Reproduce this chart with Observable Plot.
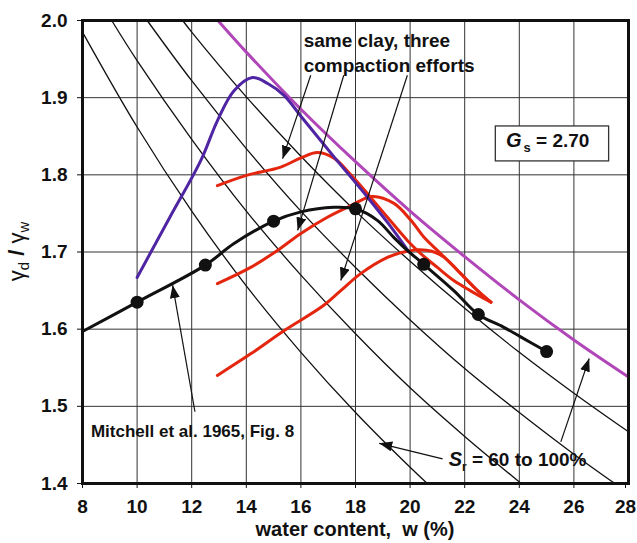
<!DOCTYPE html>
<html><head><meta charset="utf-8">
<script src="https://cdn.jsdelivr.net/npm/d3@7"></script>
<script src="https://cdn.jsdelivr.net/npm/@observablehq/plot@0.6"></script>
<style>body{margin:0;background:#fff} svg{display:block}</style>
</head><body><div id="chart"></div>
<script>
// ---------- data ----------
const xTicks = [8, 10, 12, 14, 16, 18, 20, 22, 24, 26, 28];
const yTicks = [1.4, 1.5, 1.6, 1.7, 1.8, 1.9, 2.0];

// saturation lines (Gs = 2.70), S = 60..90 black, 100 magenta
const sat60W = [8, 10, 12, 14, 16, 18, 20, 20.63];
const sat60G = [1.985, 1.862, 1.753, 1.656, 1.570, 1.492, 1.421, 1.400];
const sat70W = [9.07, 10, 12, 14, 16, 18, 20, 22, 24.07];
const sat70G = [2.0, 1.948, 1.846, 1.753, 1.670, 1.594, 1.524, 1.461, 1.400];
const sat80W = [10.37, 12, 14, 16, 18, 20, 22, 24, 26, 27.5];
const sat80G = [2.0, 1.922, 1.834, 1.753, 1.680, 1.612, 1.549, 1.492, 1.438, 1.400];
const sat90W = [11.67, 12, 14, 16, 18, 20, 22, 24, 26, 28];
const sat90G = [2.0, 1.985, 1.901, 1.824, 1.753, 1.688, 1.627, 1.570, 1.517, 1.467];
const sat100W = [12.96, 14, 16, 18, 20, 22, 24, 26, 28];
const sat100G = [2.0, 1.959, 1.885, 1.817, 1.753, 1.694, 1.638, 1.586, 1.538];

// Mitchell et al. 1965 data points and curve
const mitchellW = [10, 12.5, 15, 18, 20.5, 22.5, 25];
const mitchellG = [1.635, 1.683, 1.740, 1.756, 1.684, 1.619, 1.571];
const blackW = [8, 10, 12.5, 13.55, 15, 16, 17.2, 18, 18.8, 19.4, 19.9, 20.5, 21.6, 22.5, 23.4, 24.05, 25];
const blackG = [1.597, 1.635, 1.683, 1.711, 1.740, 1.752, 1.758, 1.756, 1.741, 1.719, 1.702, 1.684, 1.650, 1.619, 1.603, 1.590, 1.571];

// purple curve
const purpleW = [10, 11.2, 12.34, 12.94, 13.55, 14.23, 14.8, 15.38, 16, 17.22, 18.44, 19.2, 19.96];
const purpleG = [1.667, 1.745, 1.819, 1.870, 1.909, 1.926, 1.918, 1.903, 1.876, 1.823, 1.771, 1.737, 1.700];

// red curves: same clay, three compaction efforts
const redTopW = [12.94, 13.98, 15.26, 16.0, 16.6, 17.2, 17.83, 18.5, 19.17, 19.9, 20.39, 21.0, 21.6, 22.2, 22.96];
const redTopG = [1.786, 1.799, 1.810, 1.822, 1.829, 1.822, 1.800, 1.773, 1.745, 1.715, 1.698, 1.680, 1.663, 1.650, 1.635];
const redMidW = [12.94, 14.16, 15.14, 16.0, 16.97, 17.83, 18.6, 19.41, 20.03, 20.51, 21.12, 21.74, 22.35, 22.96];
const redMidG = [1.659, 1.680, 1.702, 1.724, 1.745, 1.760, 1.772, 1.763, 1.741, 1.719, 1.698, 1.676, 1.654, 1.635];
const redLowW = [12.94, 14.16, 15.38, 16.8, 17.46, 18.19, 19.17, 19.66, 20.3, 20.8, 21.25, 21.86, 22.47, 22.96];
const redLowG = [1.540, 1.568, 1.598, 1.630, 1.650, 1.672, 1.693, 1.699, 1.703, 1.701, 1.693, 1.672, 1.650, 1.635];

// annotation arrows (tail -> tip)
const arrowW1 = [16.36, 17.57, 19.9, 12.12, 21.19, 25.52];
const arrowG1 = [1.929, 1.929, 1.929, 1.493, 1.432, 1.454];
const arrowW2 = [15.33, 15.88, 17.46, 11.3, 18.87, 26.56];
const arrowG2 = [1.821, 1.728, 1.663, 1.657, 1.452, 1.562];

// annotation texts
const noteTexts = ["same clay, three", "compaction efforts", "Mitchell et al. 1965, Fig. 8"];
const noteW = [16.1, 16.1, 8.31];
const noteG = [1.9663, 1.9339, 1.4603];
const noteSize = [19, 19, 17];

const gsBoxW = [23.14, 27.29];
const gsBoxG = [1.8174, 1.8627];
const gsLabel = ["G", "s", " = 2.70"];
const gsPos = [23.53, 1.8355];
const srLabel = ["S", "r", " = 60 to 100%"];
const srPos = [21.43, 1.4214];
const xLabel = "water content,  w (%)";
const yLabel = ["γ", "d", " / ", "γ", "w"];

// ---------- build rows ----------
const zip = (W, G, extra = {}) => W.map((w, i) => ({w, g: G[i], ...extra}));
const satBlack = [
  ...zip(sat60W, sat60G, {s: 60}), ...zip(sat70W, sat70G, {s: 70}),
  ...zip(sat80W, sat80G, {s: 80}), ...zip(sat90W, sat90G, {s: 90})
];
const sat100 = zip(sat100W, sat100G);
const reds = [...zip(redTopW, redTopG, {k: "a"}), ...zip(redMidW, redMidG, {k: "b"}), ...zip(redLowW, redLowG, {k: "c"})];
const arrows = arrowW1.map((w, i) => ({x1: w, y1: arrowG1[i], x2: arrowW2[i], y2: arrowG2[i]}));
const notes = noteTexts.map((t, i) => ({t, w: noteW[i], g: noteG[i], fs: noteSize[i]}));

const FONT = "'Liberation Sans', Arial, Helvetica, sans-serif";
const RED = "#e4260f", PURPLE = "#4f25a3", MAGENTA = "#b046b8", INK = "#111";
const xAxisOpts = {tickSize: 5, tickPadding: 11, fontSize: 19, fontWeight: "bold", label: null, stroke: INK};

const chart = Plot.plot({
  width: 637, height: 543,
  marginLeft: 82, marginRight: 9, marginTop: 20, marginBottom: 60,
  style: {fontFamily: FONT, fontWeight: "bold", color: INK, background: "#fff", overflow: "visible"},
  x: {domain: [8, 28]},
  y: {domain: [1.4, 2.0]},
  marks: [
    Plot.gridX(xTicks.slice(1, -1), {stroke: "#333", strokeOpacity: 1, strokeWidth: 1}),
    Plot.gridY(yTicks.slice(1, -1), {stroke: "#333", strokeOpacity: 1, strokeWidth: 1}),
    Plot.line(satBlack, {x: "w", y: "g", z: "s", stroke: INK, strokeWidth: 1.3, curve: "catmull-rom"}),
    Plot.line(sat100, {x: "w", y: "g", stroke: MAGENTA, strokeWidth: 3, curve: "catmull-rom"}),
    Plot.line(reds, {x: "w", y: "g", z: "k", stroke: RED, strokeWidth: 3, curve: "catmull-rom"}),
    Plot.line(zip(purpleW, purpleG), {x: "w", y: "g", stroke: PURPLE, strokeWidth: 3, curve: "catmull-rom"}),
    Plot.line(zip(blackW, blackG), {x: "w", y: "g", stroke: INK, strokeWidth: 3, curve: "catmull-rom"}),
    Plot.dot(zip(mitchellW, mitchellG), {x: "w", y: "g", r: 6.5, fill: INK, stroke: "none"}),
    Plot.link(arrows, {x1: "x1", y1: "y1", x2: "x2", y2: "y2", stroke: INK, strokeWidth: 1.2, ariaDescription: "arrows"}),
    Plot.text(notes, {x: "w", y: "g", text: "t", fontSize: "fs", textAnchor: "start", lineAnchor: "bottom", fontWeight: "bold", fill: INK}),
    Plot.rect([{x1: gsBoxW[0], x2: gsBoxW[1], y1: gsBoxG[0], y2: gsBoxG[1]}], {x1: "x1", x2: "x2", y1: "y1", y2: "y2", fill: "#fff", stroke: "#333", strokeWidth: 1.3}),
    Plot.axisX(xTicks.slice(0, -1), xAxisOpts),
    Plot.axisX(xTicks.slice(-1), {...xAxisOpts, dx: -3}),
    Plot.axisY(yTicks, {tickSize: 5, tickPadding: 10, fontSize: 19, fontWeight: "bold", label: null, tickFormat: d3.format(".1f"), stroke: INK}),
    Plot.frame({stroke: INK, strokeWidth: 3})
  ]
});

const svg = d3.select(chart);
const sx = chart.scale("x"), sy = chart.scale("y");

// filled triangular arrow heads
const defs = svg.append("defs");
defs.append("marker").attr("id", "tri").attr("viewBox", "0 0 13 10")
  .attr("refX", 13).attr("refY", 5).attr("markerWidth", 13).attr("markerHeight", 10)
  .attr("markerUnits", "userSpaceOnUse").attr("orient", "auto")
  .append("path").attr("d", "M0,0L13,5L0,10Z").attr("fill", INK);
svg.selectAll("g[aria-description=arrows] path").attr("marker-end", "url(#tri)");

// Gs label
const gs = svg.append("text").attr("x", sx.apply(gsPos[0])).attr("y", sy.apply(gsPos[1]))
  .attr("text-anchor", "start")
  .attr("font-family", FONT).attr("font-weight", "bold").attr("fill", INK).attr("font-size", 20);
gs.append("tspan").attr("font-style", "italic").text(gsLabel[0]);
gs.append("tspan").attr("font-size", 13).attr("dy", 5).attr("dx", 2).text(gsLabel[1]);
gs.append("tspan").attr("dy", -5).attr("font-size", 19).style("white-space", "pre").text(gsLabel[2]);

// Sr label
const sr = svg.append("text").attr("x", sx.apply(srPos[0])).attr("y", sy.apply(srPos[1]))
  .attr("text-anchor", "start")
  .attr("font-family", FONT).attr("font-weight", "bold").attr("fill", INK).attr("font-size", 20);
sr.append("tspan").attr("font-style", "italic").text(srLabel[0]);
sr.append("tspan").attr("font-size", 12).attr("dy", 5).text(srLabel[1]);
sr.append("tspan").attr("dy", -5).attr("font-size", 19).style("white-space", "pre").text(srLabel[2]);

// x axis label
svg.append("text").attr("x", (sx.range[0] + sx.range[1]) / 2).attr("y", 536)
  .attr("text-anchor", "middle").attr("font-family", FONT).attr("font-weight", "bold")
  .attr("font-size", 20).attr("fill", INK).style("white-space", "pre").text(xLabel);

// y axis label
const yl = svg.append("text").attr("transform", `translate(24,${(sy.range[0] + sy.range[1]) / 2}) rotate(-90)`)
  .attr("text-anchor", "middle").attr("font-family", FONT).attr("font-weight", "normal").attr("font-size", 22).attr("fill", INK);
yl.append("tspan").text(yLabel[0]);
yl.append("tspan").attr("font-size", 15).attr("dy", 5).text(yLabel[1]);
yl.append("tspan").attr("font-weight", "bold").attr("dy", -5).style("white-space", "pre").text(yLabel[2]);
yl.append("tspan").text(yLabel[3]);
yl.append("tspan").attr("font-size", 15).attr("dy", 5).text(yLabel[4]);

document.getElementById("chart").append(chart);
</script>
</body></html>
